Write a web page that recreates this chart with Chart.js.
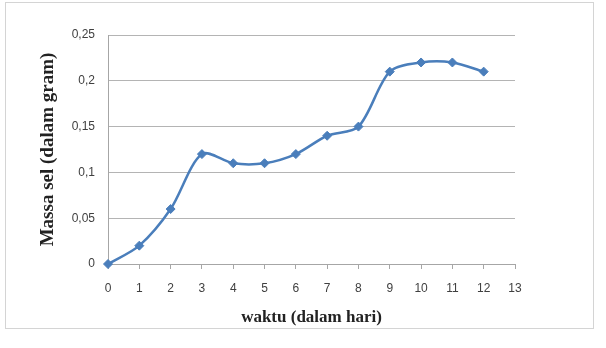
<!DOCTYPE html>
<html>
<head>
<meta charset="utf-8">
<script src="https://cdn.jsdelivr.net/npm/chart.js@4/dist/chart.umd.min.js"></script>
<style>
  html, body { margin: 0; padding: 0; background: #fff; }
  #wrap { position: relative; width: 606px; height: 348px; }
  #frame { position: absolute; left: 5px; top: 2px; width: 589px; height: 327px; border: 1px solid #d4d4d4; box-sizing: border-box; }
  canvas { position: absolute; left: 0; top: 0; }
</style>
</head>
<body>
<div id="wrap">
  <div id="frame"></div>
  <canvas id="grafik" width="606" height="348"></canvas>
</div>
<script>
// data
var hari = [0, 1, 2, 3, 4, 5, 6, 7, 8, 9, 10, 11, 12];
var massaSel = [0, 0.02, 0.06, 0.12, 0.11, 0.11, 0.12, 0.14, 0.15, 0.21, 0.22, 0.22, 0.21];
var yTickLabels = ['0', '0,05', '0,1', '0,15', '0,2', '0,25'];
var judulX = 'waktu (dalam hari)';
var judulY = 'Massa sel (dalam gram)';

(function () {
  'use strict';

  var biru = '#4a7ebb';
  var tickFont = { family: 'Liberation Sans', size: 12 };

  var points = hari.map(function (h, i) { return { x: h, y: massaSel[i] }; });

  new Chart(document.getElementById('grafik'), {
    type: 'line',
    data: {
      datasets: [{
        data: points,
        borderColor: biru,
        backgroundColor: biru,
        borderWidth: 2.5,
        tension: 0.3,
        clip: false,
        pointStyle: 'rectRot',
        pointRadius: 4.5,
        pointBorderWidth: 1
      }]
    },
    options: {
      responsive: false,
      animation: false,
      layout: { padding: { top: 35, right: 91, bottom: 0, left: 0 } },
      plugins: { legend: { display: false }, tooltip: { enabled: false } },
      scales: {
        x: {
          type: 'linear',
          min: 0,
          max: 13,
          afterFit: function (s) { s.height = 84; },
          grid: { drawOnChartArea: false, color: '#a6a6a6', tickLength: 5 },
          border: { color: '#a6a6a6' },
          ticks: { stepSize: 1, padding: 12, color: '#404040', font: tickFont, maxRotation: 0 },
          title: {
            display: true, text: judulX, color: '#222',
            font: { family: 'Liberation Serif', size: 17, weight: 'bold' },
            padding: { top: 0, bottom: 20 }
          }
        },
        y: {
          min: 0,
          max: 0.25,
          afterFit: function (s) { s.width = 108; },
          grid: { color: '#b4b4b4', tickLength: 0 },
          border: { color: '#a6a6a6' },
          ticks: {
            stepSize: 0.05,
            padding: 13,
            color: '#404040',
            font: tickFont,
            callback: function (v, i) { return yTickLabels[i]; }
          },
          title: {
            display: true, text: judulY, color: '#222',
            font: { family: 'Liberation Serif', size: 19, weight: 'bold' },
            padding: { top: 37, bottom: 0 }
          }
        }
      }
    }
  });
})();
</script>
</body>
</html>
